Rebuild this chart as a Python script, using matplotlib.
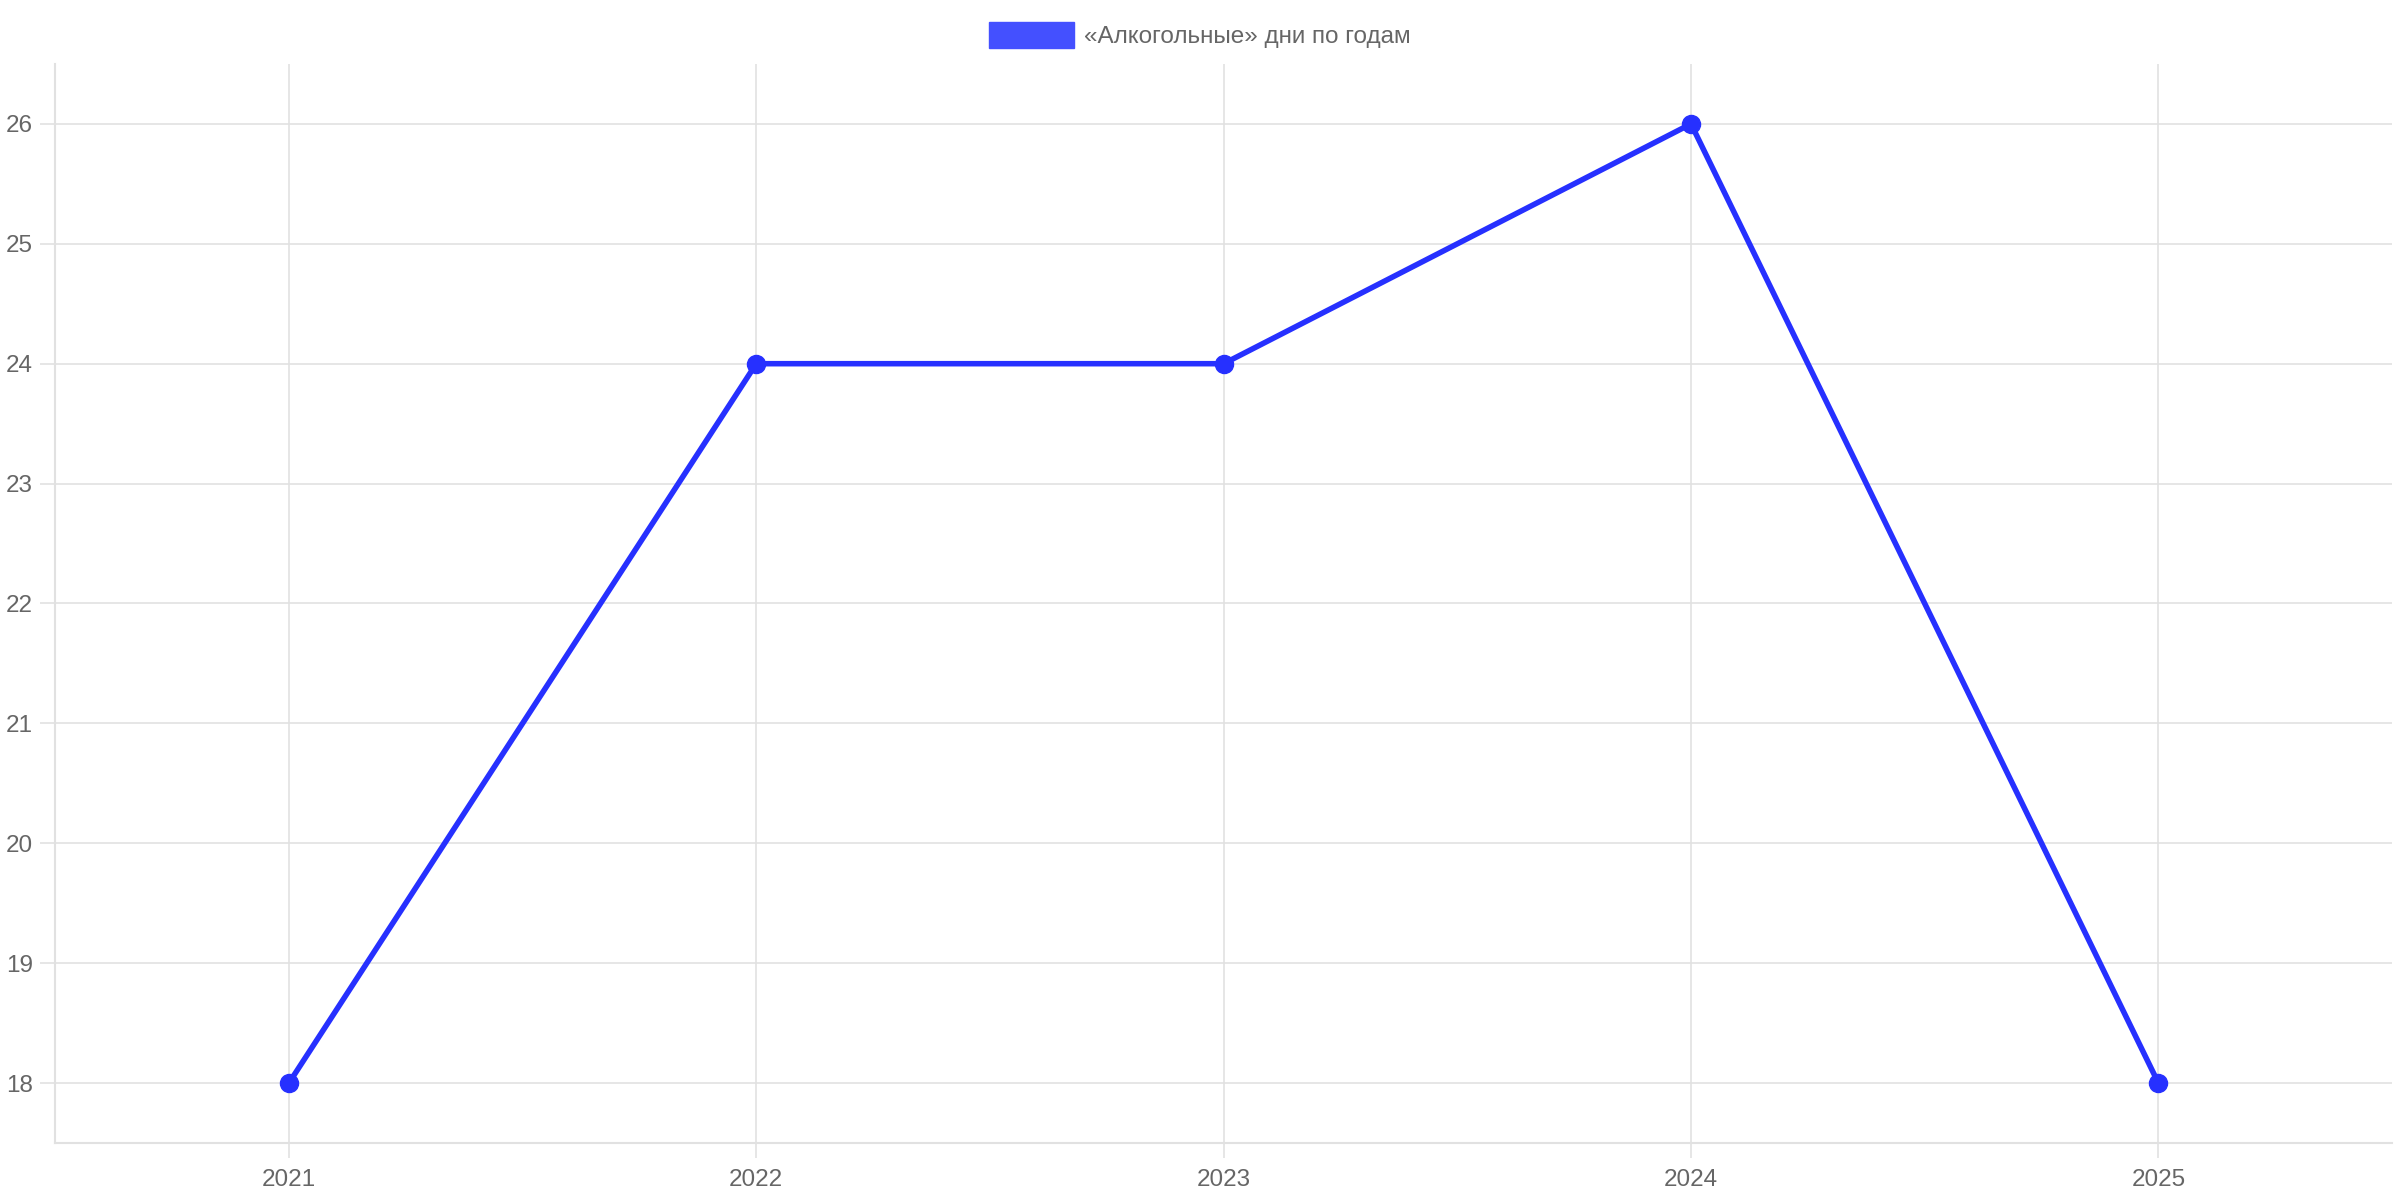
import matplotlib.pyplot as plt
from matplotlib.patches import Patch

plt.rcParams['font.family'] = ['Liberation Sans', 'DejaVu Sans']

# data
years = [2021, 2022, 2023, 2024, 2025]
days = [18, 24, 24, 26, 18]
yticks = [18, 19, 20, 21, 22, 23, 24, 25, 26]
label = '«Алкогольные» дни по годам'

line_color = '#2630ff'
grid_color = '#e1e1e1'
text_color = '#666666'

fig = plt.figure(figsize=(24, 12), dpi=100)
ax = fig.add_axes([0.023, 0.0475, 0.9737, 0.8992])

ax.plot(years, days, color=line_color, lw=4, marker='o', ms=13,
        markerfacecolor=line_color, markeredgecolor=line_color, zorder=3)

ax.set_xlim(2020.5, 2025.5)
ax.set_ylim(17.5, 26.5)
ax.set_xticks(years)
ax.set_xticklabels([str(y) for y in years])
ax.set_yticks(yticks)

ax.grid(True, color=grid_color, lw=1.2)
ax.set_axisbelow(True)
for s in ['top', 'right']:
    ax.spines[s].set_visible(False)
for s in ['left', 'bottom']:
    ax.spines[s].set_color(grid_color)
    ax.spines[s].set_linewidth(1.5)
ax.tick_params(length=11, width=1.2, color=grid_color, labelsize=17.5,
               labelcolor=text_color)
ax.tick_params(axis='x', pad=8)
ax.tick_params(axis='y', pad=5)

fig.legend(handles=[Patch(facecolor='#4450ff', edgecolor='#4450ff')],
           labels=[label], loc='upper center', bbox_to_anchor=(0.5, 1.0),
           frameon=False, fontsize=17.5, labelcolor=text_color,
           handlelength=3.5, handleheight=1.25, handletextpad=0.4)

fig.savefig('out.png', dpi=100, facecolor='white')
